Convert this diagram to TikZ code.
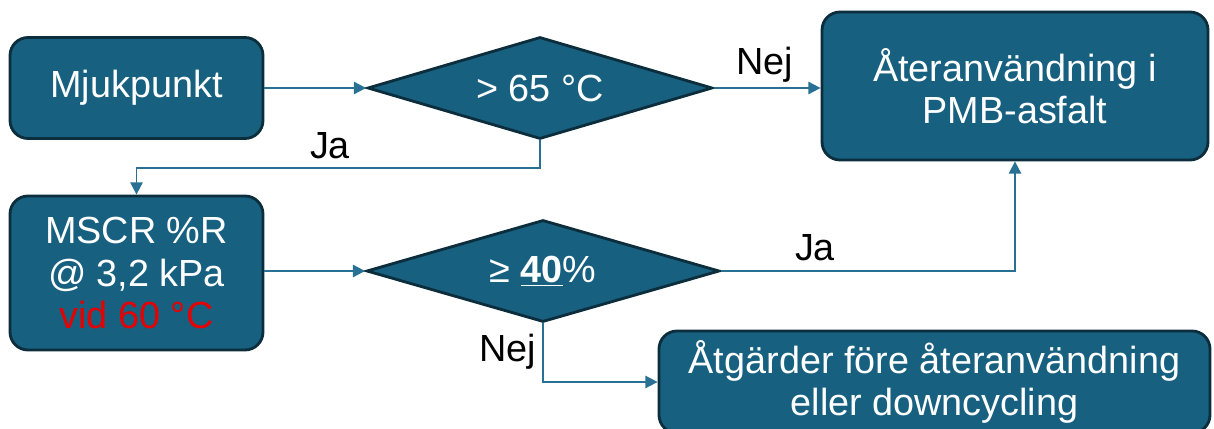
\documentclass[tikz,border=0pt]{standalone}
\usepackage{fontspec}
\setmainfont{Liberation Sans}
\usetikzlibrary{positioning,shapes.geometric,arrows.meta}

\definecolor{boxblue}{RGB}{23,96,128}
\definecolor{boxedge}{RGB}{12,45,60}
\definecolor{pilblue}{RGB}{40,112,148}
\definecolor{varmrod}{RGB}{230,0,0}

\tikzset{
	ruta/.style={draw=boxedge, line width=1.6pt, fill=boxblue, rounded corners=0.36cm,
		text=white, align=center, inner sep=0pt,
		font=\fontsize{21.5}{24}\selectfont},
	beslut/.style={diamond, draw=boxedge, line width=1.6pt, fill=boxblue, aspect=3.4,
		text=white, inner sep=0pt, font=\fontsize{21.5}{24}\selectfont},
	pil/.style={draw=pilblue, line width=1.1pt, -{Triangle[length=7pt,width=7pt]}},
	etikett/.style={text=black, font=\fontsize{21.5}{24}\selectfont}
}

\begin{document}
\begin{tikzpicture}
	\useasboundingbox (0,0) rectangle (24.28,-8.58);

	\node[ruta, minimum width=5.06cm, minimum height=2.02cm] (mjuk) at (2.73,-1.76)
	{Mjukpunkt};
	\node[beslut, minimum width=6.9cm, minimum height=2.04cm] (temp) at (10.8,-1.76)
	{> 65 °C};
	\node[ruta, minimum width=7.72cm, minimum height=2.96cm] (atervinn) at (20.3,-1.72)
	{Återanvändning i\\PMB-asfalt};

	\node[ruta, minimum width=5.06cm, minimum height=3.08cm] (mscr) at (2.73,-5.46)
	{MSCR \%R\\@ 3,2 kPa\\\textcolor{varmrod}{vid 60 °C}};
	\node[beslut, minimum width=7.06cm, minimum height=2.04cm] (krit) at (10.86,-5.42)
	{≥ \underline{\textbf{40}}\%};
	\node[ruta, minimum width=11.02cm, minimum height=2.04cm] (atgard) at (18.69,-7.64)
	{Åtgärder före återanvändning\\eller downcycling};

	% pilar
	\draw[pil] (mjuk.east) -- (temp.west);
	\draw[pil] (temp.east) -- (atervinn.west |- temp.east);
	\draw[pil] (temp.south) -- ++(0,-0.56) coordinate (knae) -| (mscr.north);
	\draw[pil] (mscr.east |- krit.west) -- (krit.west);
	\draw[pil] (krit.east) -| (atervinn.south);
	\draw[pil] (krit.south) |- (atgard.west);

	% etiketter
	\node[etikett] (nej1) at (15.3,-1.3) {Nej};
	\node[etikett] (ja1) at (6.6,-2.92) {Ja};
	\node[etikett] (ja2) at (16.3,-4.96) {Ja};
	\node[etikett] (nej2) at (10.16,-7.04) {Nej};

\end{tikzpicture}
\end{document}
